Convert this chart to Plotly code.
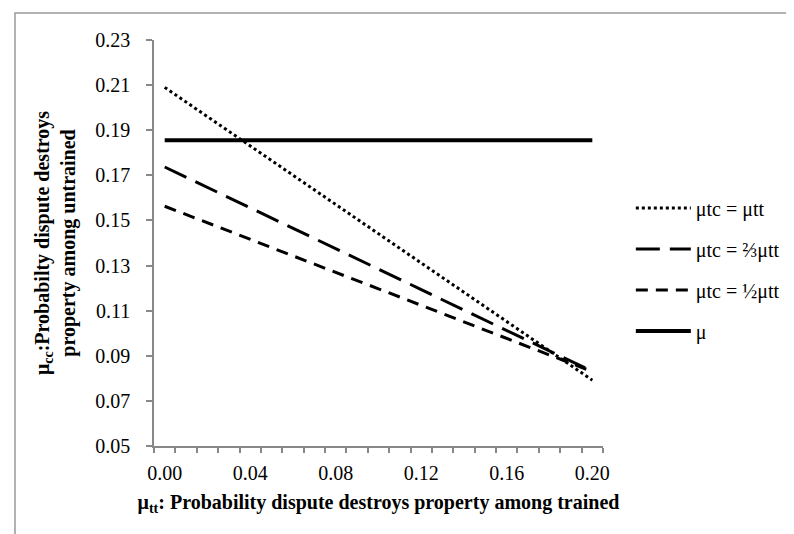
import plotly.graph_objects as go

x_vals = [0.00, 0.01, 0.02, 0.03, 0.04, 0.05, 0.06, 0.07, 0.08, 0.09, 0.10,
          0.11, 0.12, 0.13, 0.14, 0.15, 0.16, 0.17, 0.18, 0.19, 0.20]
mu_tc_eq = [0.2090, 0.2025, 0.1960, 0.1895, 0.1830, 0.1766, 0.1701, 0.1636, 0.1571, 0.1506, 0.1441,
            0.1376, 0.1311, 0.1246, 0.1181, 0.1117, 0.1052, 0.0987, 0.0922, 0.0857, 0.0792]
mu_tc_two_thirds = [0.1737, 0.1692, 0.1646, 0.1601, 0.1556, 0.1511, 0.1465, 0.1420, 0.1375, 0.1329, 0.1284,
                    0.1239, 0.1193, 0.1148, 0.1103, 0.1058, 0.1012, 0.0967, 0.0922, 0.0876, 0.0831]
mu_tc_half = [0.1563, 0.1526, 0.1490, 0.1453, 0.1416, 0.1380, 0.1343, 0.1306, 0.1270, 0.1233, 0.1197,
              0.1160, 0.1123, 0.1087, 0.1050, 0.1013, 0.0977, 0.0940, 0.0903, 0.0867, 0.0830]
mu_const = [0.1855] * 21
names = ["μtc = μtt", "μtc = ⅔μtt", "μtc = ½μtt", "μ"]
y_ticks = [0.05, 0.07, 0.09, 0.11, 0.13, 0.15, 0.17, 0.19, 0.21, 0.23]
x_ticks = [0.00, 0.04, 0.08, 0.12, 0.16, 0.20]

FONT = "Liberation Serif"

fig = go.Figure()
styles = [
    dict(dash="3px,3px", width=3),
    dict(dash="24px,10px", width=3),
    dict(dash="12px,8px", width=3),
    dict(dash="solid", width=4),
]
for i, (ys, nm) in enumerate(zip([mu_tc_eq, mu_tc_two_thirds, mu_tc_half, mu_const], names)):
    fig.add_trace(go.Scatter(
        x=x_vals, y=ys, name=nm, mode="lines",
        line=dict(color="black", **styles[i]),
        legendgroup=f"g{i}",
    ))

# tick marks between categories (category-style axis)
minor_ticks = [round(-0.005 + 0.01 * k, 3) for k in range(22)]

fig.update_layout(
    width=794, height=534,
    margin=dict(l=146, r=199, t=32, b=96),
    paper_bgcolor="white", plot_bgcolor="white",
    font=dict(family=FONT, color="black"),
    showlegend=True,
    legend=dict(
        x=1.062, xanchor="left", y=0.435, yanchor="middle",
        font=dict(size=20, family=FONT, color="black"),
        tracegroupgap=12,
        itemwidth=55,
        bgcolor="rgba(0,0,0,0)",
    ),
    xaxis=dict(
        range=[-0.005, 0.205],
        tickmode="array", tickvals=x_ticks,
        ticktext=[f"{v:.2f}" for v in x_ticks],
        ticks="", showgrid=False, zeroline=False,
        showline=True, linecolor="#888888", linewidth=1.5,
        tickfont=dict(size=20, family=FONT),
        ticklabelstandoff=8,
        minor=dict(tickmode="array", tickvals=minor_ticks, ticks="outside",
                   ticklen=5, tickcolor="#888888", tickwidth=1.5, showgrid=False),
        title=dict(text="<b>μ<sub>tt</sub>: Probability dispute destroys property among trained</b>",
                   font=dict(size=20, family=FONT), standoff=12),
    ),
    yaxis=dict(
        range=[0.05, 0.23],
        tickmode="array", tickvals=y_ticks,
        ticktext=[f"{v:.2f}" for v in y_ticks],
        ticks="outside", ticklen=6, tickcolor="#888888", tickwidth=1.5,
        showgrid=False, zeroline=False,
        showline=True, linecolor="#888888", linewidth=1.5,
        tickfont=dict(size=20, family=FONT),
        ticklabelstandoff=12,
        title=dict(text="<b>μ<sub>cc</sub>:Probabilty dispute destroys<br>property among untrained</b>",
                   font=dict(size=20, family=FONT), standoff=14),
    ),
    shapes=[dict(type="rect", xref="paper", yref="paper",
                 x0=(7 - 146) / 449, x1=(792 - 146) / 449,
                 y0=(438 - 532) / 406, y1=(438 - 5) / 406,
                 line=dict(color="#999999", width=1.5), fillcolor="rgba(0,0,0,0)")],
)

fig.write_html("out.html")
